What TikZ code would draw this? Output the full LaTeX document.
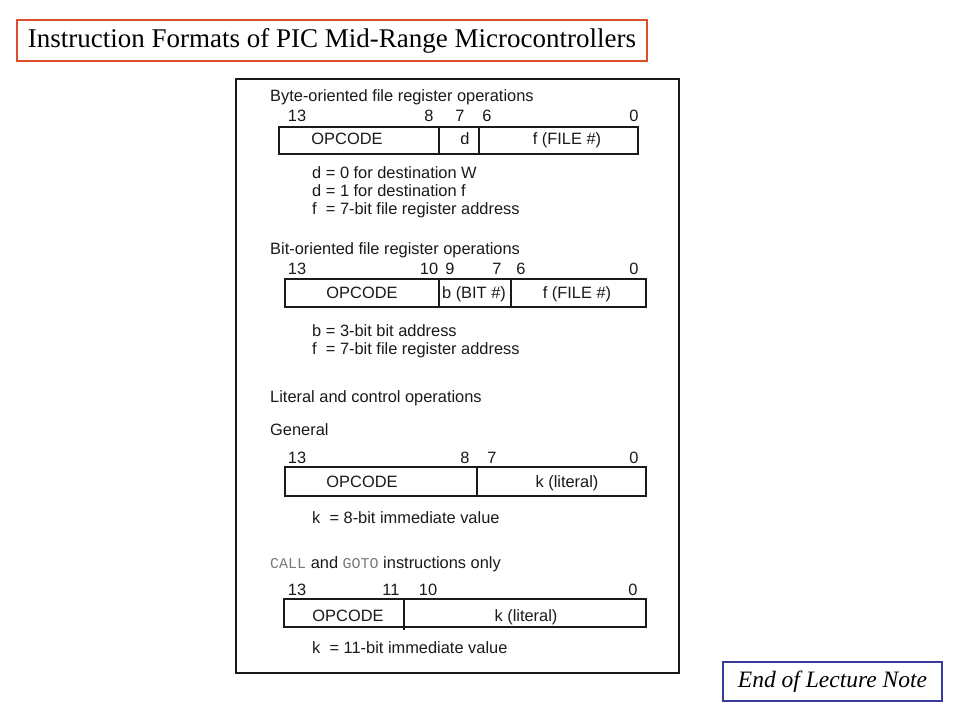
\documentclass[tikz,border=0pt]{standalone}
\usepackage{fontspec}
\setmainfont{Liberation Serif}
\newfontfamily\arialf{Liberation Sans}
\newfontfamily\courf{Liberation Mono}
\definecolor{txt}{HTML}{1A1A1A}
\definecolor{titlered}{HTML}{DD4F2A}
\definecolor{noteblue}{HTML}{3A3A9C}
\definecolor{codegray}{HTML}{7A7A7A}
\tikzset{
  lbl/.style={font=\arialf\fontsize{16.4}{19}\selectfont, text=txt, inner sep=0pt, anchor=base},
  lblw/.style={lbl, anchor=base west},
  fieldbox/.style={draw=txt, line width=1.5pt},
  fieldedge/.style={draw=txt, line width=2.4pt},
  divider/.style={draw=txt, line width=1.4pt},
  outerbox/.style={draw=txt, line width=1.6pt},
  outeredge/.style={draw=txt, line width=2.8pt},
}
\begin{document}
\begin{tikzpicture}[x=1pt,y=-1pt]
\useasboundingbox (0,0) rectangle (960,720);
\fill[white] (0,0) rectangle (960,720);

% title
\node[draw=titlered, line width=2pt, minimum width=630pt, minimum height=41pt, inner sep=0pt,
      font=\fontsize{27}{30}\selectfont] (title) at (332,40.5) {Instruction Formats of PIC Mid-Range Microcontrollers};

% end note
\node[draw=noteblue, line width=1.2pt, minimum width=219pt, minimum height=39pt, inner sep=0pt,
      font=\itshape\fontsize{23.5}{27}\selectfont] (endnote) at (832.5,681.5) {End of Lecture Note};

% outer frame
\draw[outerbox] (236,79) rectangle (679,673);
\draw[outeredge] (236,673) -- (679,673) -- (679,79);

% ---------- Byte-oriented ----------
\node[lblw] (h1) at (270,101) {Byte-oriented file register operations};
\node[lbl] (b1a) at (297,121) {13};
\node[lbl] (b1b) at (429,121) {8};
\node[lbl] (b1c) at (460,121) {7};
\node[lbl] (b1d) at (487,121) {6};
\node[lbl] (b1e) at (634,121) {0};
\draw[fieldbox] (279,127) rectangle (638,154);
\draw[fieldedge] (279,154) -- (638,154) -- (638,127);
\draw[divider] (439,127) -- (439,154);
\draw[divider] (479,127) -- (479,154);
\node[lbl] (f1a) at (347,144) {OPCODE};
\node[lbl] (f1b) at (465,144) {d};
\node[lbl] (f1c) at (567,144) {f (FILE \#)};
\node[lblw] (n1a) at (312,178) {d = 0 for destination W};
\node[lblw] (n1b) at (312,196) {d = 1 for destination f};
\node[lblw] (n1c) at (312,214) {f\ \ = 7-bit file register address};

% ---------- Bit-oriented ----------
\node[lblw] (h2) at (270,254) {Bit-oriented file register operations};
\node[lbl] (b2a) at (297,274) {13};
\node[lbl] (b2b) at (429,274) {10};
\node[lbl] (b2c) at (450,274) {9};
\node[lbl] (b2d) at (497,274) {7};
\node[lbl] (b2e) at (521,274) {6};
\node[lbl] (b2f) at (634,274) {0};
\draw[fieldbox] (285,279) rectangle (646,307);
\draw[fieldedge] (285,307) -- (646,307) -- (646,279);
\draw[divider] (439,279) -- (439,307);
\draw[fieldedge] (511,279) -- (511,307);
\node[lbl] (f2a) at (362,298) {OPCODE};
\node[lbl] (f2b) at (474,298) {b (BIT \#)};
\node[lbl] (f2c) at (577,298) {f (FILE \#)};
\node[lblw] (n2a) at (312,336) {b = 3-bit bit address};
\node[lblw] (n2b) at (312,354) {f\ \ = 7-bit file register address};

% ---------- Literal and control ----------
\node[lblw] (h3) at (270,402) {Literal and control operations};
\node[lblw] (h3g) at (270,435) {General};
\node[lbl] (b3a) at (297,463) {13};
\node[lbl] (b3b) at (465,463) {8};
\node[lbl] (b3c) at (492,463) {7};
\node[lbl] (b3d) at (634,463) {0};
\draw[fieldbox] (285,467) rectangle (646,496);
\draw[fieldedge] (285,496) -- (646,496) -- (646,467);
\draw[divider] (477,467) -- (477,496);
\node[lbl] (f3a) at (362,487) {OPCODE};
\node[lbl] (f3b) at (567,487) {k (literal)};
\node[lblw] (n3a) at (312,523) {k\ \ = 8-bit immediate value};

% ---------- CALL and GOTO ----------
\node[lblw] (h4) at (270,568) {{\courf\fontsize{15}{18}\selectfont\color{codegray}CALL} and {\courf\fontsize{15}{18}\selectfont\color{codegray}GOTO} instructions only};
\node[lbl] (b4a) at (297,595) {13};
\node[lbl] (b4b) at (391,595) {11};
\node[lbl] (b4c) at (428,595) {10};
\node[lbl] (b4d) at (633,595) {0};
\draw[fieldbox] (284,599) rectangle (646,627);
\draw[fieldedge] (284,627) -- (646,627) -- (646,599);
\draw[divider] (404,599) -- (404,630);
\node[lbl] (f4a) at (348,621) {OPCODE};
\node[lbl] (f4b) at (526,621) {k (literal)};
\node[lblw] (n4a) at (312,653) {k\ \ = 11-bit immediate value};
\end{tikzpicture}
\end{document}
